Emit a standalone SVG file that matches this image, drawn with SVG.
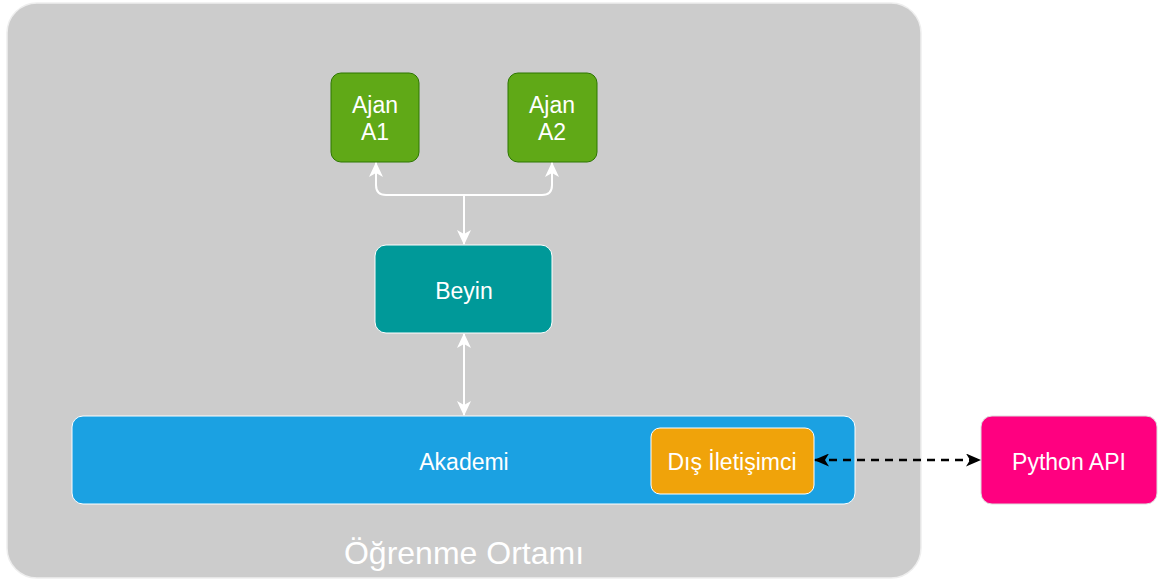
<svg xmlns="http://www.w3.org/2000/svg" width="1159" height="581" viewBox="0 0 1159 581">
  <style>
    .lbl { font-family: "Liberation Sans", Arial, sans-serif; font-size: 23px; fill: #ffffff; text-anchor: middle; dominant-baseline: central; }
    .big { font-family: "Liberation Sans", Arial, sans-serif; font-size: 32px; fill: #ffffff; text-anchor: middle; dominant-baseline: central; }
    .link { fill: none; stroke: #ffffff; stroke-width: 2; }
    .ext { fill: none; stroke: #000000; stroke-width: 2.5; stroke-dasharray: 8 6; }
  </style>
  <defs>
    <marker id="arrW" viewBox="0 0 15 14" refX="14" refY="7" markerWidth="15" markerHeight="14" markerUnits="userSpaceOnUse" orient="auto-start-reverse">
      <path d="M0,0 L15,7 L0,14 L4,7 z" fill="#ffffff"/>
    </marker>
    <marker id="arrK" viewBox="0 0 15 13" refX="14" refY="6.5" markerWidth="15" markerHeight="13" markerUnits="userSpaceOnUse" orient="auto-start-reverse">
      <path d="M0,0 L15,6.5 L0,13 L4,6.5 z" fill="#000000"/>
    </marker>
  </defs>

  <rect width="1159" height="581" fill="#ffffff"/>

  <g id="ortam">
    <rect x="7" y="3" width="914" height="575" rx="30" ry="30" fill="#cccccc" stroke="#eeeeee" stroke-width="1.5"/>
    <text class="big" x="464" y="553">Öğrenme Ortamı</text>
  </g>

  <g id="ajanA1">
    <rect x="331" y="73" width="88" height="89" rx="10" ry="10" fill="#60a917" stroke="#2d7600" stroke-width="1"/>
    <text class="lbl" x="375" y="105">Ajan</text>
    <text class="lbl" x="375" y="132">A1</text>
  </g>

  <g id="ajanA2">
    <rect x="508" y="73" width="89" height="89" rx="10" ry="10" fill="#60a917" stroke="#2d7600" stroke-width="1"/>
    <text class="lbl" x="552" y="105">Ajan</text>
    <text class="lbl" x="552" y="132">A2</text>
  </g>

  <g id="beyin">
    <rect x="375" y="245" width="177" height="88" rx="11" ry="11" fill="#009999" stroke="#ffffff" stroke-width="1"/>
    <text class="lbl" x="464" y="291">Beyin</text>
  </g>

  <g id="akademi">
    <rect x="72" y="416" width="783" height="88" rx="11" ry="11" fill="#1ba1e2" stroke="#ffffff" stroke-width="1"/>
    <text class="lbl" x="464" y="462">Akademi</text>
  </g>

  <g id="disIletisimci">
    <rect x="651" y="428" width="163" height="66" rx="9" ry="9" fill="#f0a30a" stroke="#ffffff" stroke-width="1"/>
    <text class="lbl" x="732" y="462">Dış İletişimci</text>
  </g>

  <g id="pythonApi">
    <rect x="981" y="416" width="176" height="88" rx="11" ry="11" fill="#ff0080" stroke="#dddddd" stroke-width="1"/>
    <text class="lbl" x="1069" y="462">Python API</text>
  </g>

  <g id="connectors">
    <path class="link" d="M464,195 L464,244" marker-end="url(#arrW)"/>
    <path class="link" d="M464,195 L386,195 Q376,195 376,185 L376,163" marker-end="url(#arrW)"/>
    <path class="link" d="M464,195 L542,195 Q552,195 552,185 L552,163" marker-end="url(#arrW)"/>
    <path class="link" d="M464,334 L464,415" marker-start="url(#arrW)" marker-end="url(#arrW)"/>
    <path class="ext" d="M815,460 L980,460" marker-start="url(#arrK)" marker-end="url(#arrK)"/>
  </g>
</svg>
